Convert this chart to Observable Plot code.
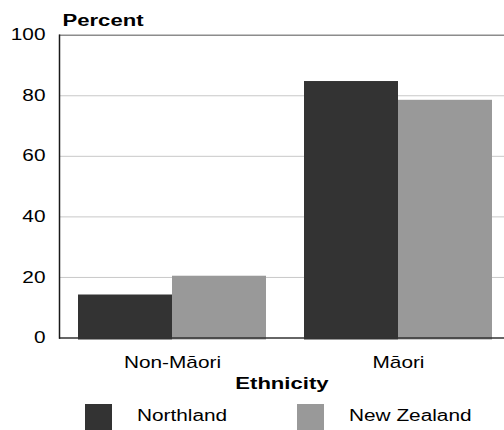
<!DOCTYPE html>
<html><head><meta charset="utf-8">
<script src="https://cdn.jsdelivr.net/npm/d3@7"></script>
<script src="https://cdn.jsdelivr.net/npm/@observablehq/plot@0.6"></script>
<style>
html,body{margin:0;padding:0;background:#fff;overflow:hidden;}
#wrap{position:relative;width:504px;height:430px;font-family:"Liberation Sans",Arial,sans-serif;}
#legend{position:absolute;left:0;top:400px;width:504px;height:30px;}
.sw{position:absolute;top:4px;width:27px;height:26px;}
.lt{position:absolute;top:8px;font-size:16px;line-height:16px;transform:scaleX(1.3);transform-origin:left center;white-space:nowrap;color:#000;}
</style></head>
<body><div id="wrap"><div id="chart"></div><div id="legend"></div></div>
<script>
const ethnicity = ["Non-Māori", "Māori"];
const series = ["Northland", "New Zealand"];
const northland = [14.2, 84.7];
const newZealand = [20.4, 78.5];
const yTicks = [0, 20, 40, 60, 80, 100];
const gridTicks = [20, 40, 60, 80];
const topTick = [100];
const colors = ["#333333", "#999999"];
const yLabel = "Percent";
const xLabel = "Ethnicity";

const data = [];
ethnicity.forEach((e, i) => {
  data.push({ethnicity: e, series: series[0], value: northland[i]});
  data.push({ethnicity: e, series: series[1], value: newZealand[i]});
});

const plot = Plot.plot({
  width: 504, height: 400,
  marginTop: 34.7, marginBottom: 62.5, marginLeft: 58, marginRight: -7,
  style: {fontFamily: '"Liberation Sans", Arial, sans-serif', fontSize: "16px", color: "#000", background: "#fff", overflow: "hidden"},
  fx: {domain: ethnicity, padding: 0},
  x: {domain: series, paddingInner: 0, paddingOuter: 0.192, axis: null},
  y: {domain: [0, 100]},
  color: {domain: series, range: colors},
  marks: [
    Plot.ruleY(gridTicks, {stroke: "#c8c8c8", strokeWidth: 1}),
    Plot.ruleY(topTick, {stroke: "#8c8c8c", strokeWidth: 1.5}),
    Plot.barY(data, {fx: "ethnicity", x: "series", y: "value", fill: "series", insetBottom: -2}),
    Plot.ruleY([0], {stroke: "#333", strokeWidth: 1.5}),
    Plot.frame({anchor: "left", facetAnchor: "left", stroke: "#1a1a1a", strokeWidth: 1.5}),
    Plot.axisY({ticks: yTicks, tickSize: 0, tickPadding: 14, label: null, tickFormat: d => String(d)}),
    Plot.axisFx({anchor: "bottom", tickSize: 0, tickPadding: 18.5, label: null}),
    Plot.text([ethnicity[0]], {fx: d => d, text: () => yLabel, frameAnchor: "top-left", lineAnchor: "middle", textAnchor: "start", dx: 3, dy: -14.3, fontWeight: "bold", fontSize: 17}),
    Plot.text([ethnicity[1]], {fx: d => d, text: () => xLabel, frameAnchor: "bottom-left", lineAnchor: "middle", textAnchor: "middle", dx: -3.5, dy: 46, fontWeight: "bold", fontSize: 17})
  ]
});
document.getElementById("chart").appendChild(plot);

// horizontal stretch of the text, as in the reference
plot.querySelectorAll("text").forEach(t => {
  const bb = t.getBBox();
  const anchor = getComputedStyle(t).textAnchor;
  const ax = anchor === "end" ? bb.x + bb.width : anchor === "middle" ? bb.x + bb.width / 2 : bb.x;
  const tr = t.getAttribute("transform") || "";
  t.setAttribute("transform", `${tr} translate(${ax},0) scale(1.3,1) translate(${-ax},0)`);
});

const legend = document.getElementById("legend");
const swX = [85, 297];
const txX = [137, 349];
series.forEach((s, i) => {
  const sw = document.createElement("div");
  sw.className = "sw"; sw.style.left = swX[i] + "px"; sw.style.background = colors[i];
  legend.appendChild(sw);
  const lt = document.createElement("div");
  lt.className = "lt"; lt.style.left = txX[i] + "px"; lt.textContent = s;
  legend.appendChild(lt);
});
</script>
</body></html>
